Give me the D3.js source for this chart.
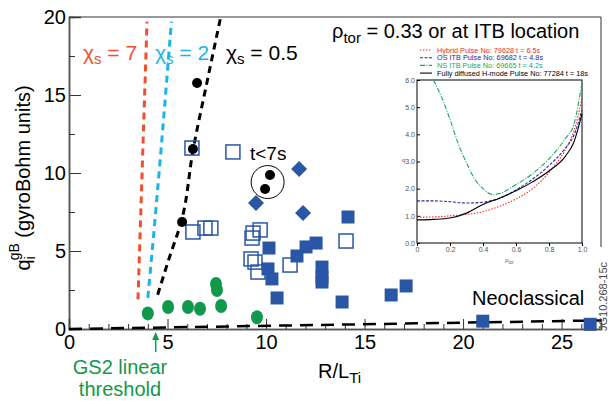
<!DOCTYPE html>
<html>
<head>
<meta charset="utf-8">
<script src="https://cdn.jsdelivr.net/npm/d3@7"></script>
<style>
body { margin: 0; background: #fff; }
svg { font-family: "Liberation Sans", Arial, Helvetica, sans-serif; }
</style>
</head>
<body>
<svg id="chartSVG" width="609" height="401"></svg>
<script>
// ---- main plot data (R/L_Ti, q_i gB) ----
var filledSquares = [[14.16,7.18],[10.15,5.19],[12.03,5.26],[12.54,5.51],[11.57,4.68],[10.10,3.85],
  [10.30,3.21],[12.84,3.97],[12.84,3.33],[12.84,3.01],[10.56,1.99],[13.86,1.73],[17.11,2.76],
  [16.35,2.18],[21.0,0.5],[26.45,0.3]];
var openSquares = [[6.24,11.6],[8.32,11.35],[6.29,6.22],[6.9,6.47],[7.2,6.47],[9.34,6.15],[9.70,6.35],
  [9.29,5.83],[14.06,5.64],[9.24,4.49],[9.44,4.29],[11.22,4.1],[9.59,3.65]];
var diamonds = [[11.68,10.26],[9.49,8.08],[11.88,7.44]];
var blackDots = [[6.5,15.77],[6.29,11.54],[5.74,6.86],[10.2,9.87],[9.95,8.97]];
var greenDots = [[4.0,1.0],[5.03,1.41],[6.04,1.41],[6.65,1.3],[7.72,1.47],[7.46,2.88],[7.51,2.5],[9.54,0.75]];

// chi_s stiffness lines
var chi7 = [[3.5,1.9],[3.96,19.7]];
var chi2 = [[4.0,2.0],[4.3,6.1],[5.2,19.7]];
var chi05 = [[4.5,2.2],[5.1,4.6],[5.7,6.9],[6.3,11.5],[7.0,15.8],[7.7,20]];
var neoLine = [[0,0],[27,0.55]];

var xTicks = [0,5,10,15,20,25];
var yTicks = [0,5,10,15,20];

// ---- inset data (rho_tor, q) ----
var rho = [0,0.1,0.2,0.3,0.4,0.5,0.6,0.7,0.8,0.9,0.95,1.0];
var qFully = [0.85,0.87,0.92,1.1,1.42,1.65,1.92,2.25,2.65,3.2,3.7,4.75];
var qHybrid = [0.95,0.96,1.0,1.05,1.15,1.35,1.62,2.0,2.6,3.45,4.1,5.3];
var qOS = [1.55,1.55,1.52,1.47,1.5,1.65,1.95,2.35,2.85,3.5,3.95,4.9];
var rhoNS = [0.1,0.15,0.2,0.25,0.3,0.35,0.4,0.46,0.5,0.6,0.7,0.8,0.9,0.95,1.0];
var qNS = [6.0,5.35,4.55,3.65,2.95,2.35,2.0,1.78,1.82,2.15,2.55,3.1,3.85,4.35,5.9];
var insetXTicks = [0,0.2,0.4,0.6,0.8,1.0];
var insetYTicks = [0,1,2,3,4,5,6];
var legendItems = ["Hybrid Pulse No: 79628 t = 6.5s","OS ITB Pulse No: 69682 t = 4.8s",
  "NS ITB Pulse No: 69665 t = 4.2s","Fully diffused H-mode Pulse No: 77284 t = 18s"];

var blue = "#2a56a6", green = "#10994a";

var svg = d3.select("#chartSVG");

var x = d3.scaleLinear().domain([0,27]).range([69,601]),
    y = d3.scaleLinear().domain([0,20]).range([329,17]);

var line = d3.line()
    .x(function(d) { return x(d[0]); })
    .y(function(d) { return y(d[1]); });

// axes, ticks inside
svg.append("g").attr("transform","translate(" + x(0) + ",0)")
    .call(d3.axisLeft(y).tickValues(yTicks).tickSize(-12).tickPadding(3));
svg.append("g").attr("transform","translate(" + x(0) + ",0)")
    .call(d3.axisLeft(y).tickValues([2.5,7.5,12.5,17.5]).tickSize(-6).tickFormat(""));
svg.append("g").attr("transform","translate(0," + y(0) + ")")
    .call(d3.axisBottom(x).tickValues(xTicks).tickSize(-10).tickPadding(6));
svg.append("g").attr("transform","translate(0," + y(0) + ")")
    .call(d3.axisBottom(x).tickValues(d3.range(0,27).filter(function(v){ return v % 5; })).tickSize(-5).tickFormat(""));
svg.selectAll(".domain").attr("stroke","#555").attr("stroke-width",1.5);
svg.selectAll(".tick line").attr("stroke","#333");
svg.selectAll(".tick text").attr("font-size",20).attr("fill","#000")
    .attr("font-family","Liberation Sans, Arial, sans-serif");

// frame top + right
svg.append("path").attr("d","M" + x(0) + "," + y(20) + "H" + x(27) + "V247")
    .attr("fill","none").attr("stroke","#333").attr("stroke-width",1);

// neoclassical line
svg.append("path").datum(neoLine).attr("d",line)
    .attr("fill","none").attr("stroke","#000").attr("stroke-width",2.5).attr("stroke-dasharray","13,8");

// chi_s lines
var chiLines = [{d:chi7,c:"#f04e30"},{d:chi2,c:"#1ab4ea"},{d:chi05,c:"#000"}];
chiLines.forEach(function(l){
  svg.append("path").datum(l.d)
    .attr("d",line.curve(d3.curveMonotoneY))
    .attr("fill","none").attr("stroke",l.c).attr("stroke-width",3).attr("stroke-dasharray","7,5");
});
line.curve(d3.curveLinear);

// markers
svg.selectAll(".os").data(openSquares).enter().append("rect")
    .attr("x",function(d){ return x(d[0]) - 7; }).attr("y",function(d){ return y(d[1]) - 7; })
    .attr("width",14).attr("height",14)
    .attr("fill","none").attr("stroke",blue).attr("stroke-width",1.5);
svg.selectAll(".fs").data(filledSquares).enter().append("rect")
    .attr("x",function(d){ return x(d[0]) - 6.5; }).attr("y",function(d){ return y(d[1]) - 6.5; })
    .attr("width",13).attr("height",13).attr("fill",blue);
svg.selectAll(".dm").data(diamonds).enter().append("path")
    .attr("transform",function(d){ return "translate(" + x(d[0]) + "," + y(d[1]) + ")"; })
    .attr("d","M0,-8L8,0L0,8L-8,0Z").attr("fill",blue);
svg.selectAll(".gd").data(greenDots).enter().append("ellipse")
    .attr("cx",function(d){ return x(d[0]); }).attr("cy",function(d){ return y(d[1]); })
    .attr("rx",6).attr("ry",7).attr("fill",green);
svg.selectAll(".bd").data(blackDots).enter().append("circle")
    .attr("cx",function(d){ return x(d[0]); }).attr("cy",function(d){ return y(d[1]); })
    .attr("r",5).attr("fill","#000");

// t<7s circle
svg.append("circle").attr("cx",x(10.08)).attr("cy",y(9.42)).attr("r",16.5)
    .attr("fill","none").attr("stroke","#000").attr("stroke-width",1);
svg.append("text").attr("x",250).attr("y",160).attr("font-size",19).text("t<7s");

// chi labels
function chiLabel(xp, col, val) {
  var t = svg.append("text").attr("x",xp).attr("y",60).attr("font-size",21).attr("fill",col);
  t.append("tspan").text("\u03c7");
  t.append("tspan").attr("font-size",15).attr("dy",4).text("s");
  t.append("tspan").attr("dy",-4).text(" = " + val);
}
chiLabel(83,"#f04e30","7");
chiLabel(155,"#1ab4ea","2");
chiLabel(226,"#000","0.5");

// rho_tor title
var tt = svg.append("text").attr("x",332).attr("y",38).attr("font-size",20);
tt.append("tspan").text("\u03c1");
tt.append("tspan").attr("font-size",15).attr("dy",5).text("tor");
tt.append("tspan").attr("dy",-5).text(" = 0.33 or at ITB location");

svg.append("text").attr("x",472).attr("y",305).attr("font-size",20).text("Neoclassical");

// axis titles
var yl = svg.append("text").attr("transform","translate(30,178) rotate(-90)")
    .attr("text-anchor","middle").attr("font-size",20);
yl.append("tspan").text("q");
yl.append("tspan").attr("font-size",14).attr("dy",5).text("i");
yl.append("tspan").attr("font-size",14).attr("dx",-4).attr("dy",-16).text("gB");
yl.append("tspan").attr("dy",11).text(" (gyroBohm units)");

var xl = svg.append("text").attr("x",318).attr("y",378).attr("font-size",20);
xl.append("tspan").text("R/L");
xl.append("tspan").attr("font-size",15).attr("dy",5).text("Ti");

// GS2 threshold arrow
svg.append("line").attr("x1",x(4.4)).attr("x2",x(4.4)).attr("y1",352).attr("y2",338)
    .attr("stroke",green).attr("stroke-width",1.5);
svg.append("path").attr("d","M" + x(4.4) + ",332l-3.5,8h7Z").attr("fill",green);
svg.append("text").attr("x",120).attr("y",374).attr("text-anchor","middle")
    .attr("font-size",20).attr("fill",green).text("GS2 linear");
svg.append("text").attr("x",120).attr("y",396).attr("text-anchor","middle")
    .attr("font-size",20).attr("fill",green).text("threshold");

svg.append("text").attr("transform","translate(607,331) rotate(-90)")
    .attr("font-size",11).attr("fill","#444").text("JG10.268-15c");

// ---- inset ----
var ix = d3.scaleLinear().domain([0,1]).range([417,582]),
    iy = d3.scaleLinear().domain([0,6]).range([243,80]);
var g = svg.append("g");
g.append("rect").attr("x",ix(0)).attr("y",iy(6)).attr("width",ix(1)-ix(0)).attr("height",iy(0)-iy(6))
    .attr("fill","#fff").attr("stroke","#000").attr("stroke-width",1);
g.append("g").attr("transform","translate(0," + iy(0) + ")")
    .call(d3.axisBottom(ix).tickValues(insetXTicks).tickSize(3).tickPadding(1)
      .tickFormat(function(d){ return d === 0 ? "0" : d3.format(".1f")(d); }));
g.append("g").attr("transform","translate(" + ix(0) + ",0)")
    .call(d3.axisLeft(iy).tickValues(insetYTicks).tickSize(-3).tickPadding(2));
g.selectAll(".domain").remove();
g.selectAll(".tick text").attr("font-size",7).attr("fill","#555");
g.selectAll(".tick line").attr("stroke","#000");

var iline = d3.line().curve(d3.curveMonotoneX)
    .x(function(d){ return ix(d[0]); }).y(function(d){ return iy(d[1]); });
var insetSeries = [
  {v:d3.zip(rho,qHybrid), c:"#ee2a2a", dash:"1.5,1.5"},
  {v:d3.zip(rho,qOS), c:"#2a2a99", dash:"3,1.5"},
  {v:d3.zip(rhoNS,qNS), c:"#18a860", dash:"5,1.5,1,1.5"},
  {v:d3.zip(rho,qFully), c:"#000", dash:null}
];
insetSeries.forEach(function(s, i){
  g.append("path").datum(s.v).attr("d",iline).attr("fill","none")
    .attr("stroke",s.c).attr("stroke-width",1.1).attr("stroke-dasharray",s.dash);
  var ly = 50 + i * 7.7;
  g.append("line").attr("x1",420).attr("x2",432).attr("y1",ly).attr("y2",ly)
    .attr("stroke",s.c).attr("stroke-width",1.1).attr("stroke-dasharray",s.dash);
  g.append("text").attr("x",437).attr("y",ly + 2.5).attr("font-size",7.3)
    .attr("fill",i === 3 ? "#000" : s.c).text(legendItems[i]);
});
g.append("text").attr("x",402).attr("y",162).attr("font-size",6).attr("fill","#555").text("q");
var rl = g.append("text").attr("x",505).attr("y",262).attr("font-size",6).attr("fill","#555");
rl.append("tspan").text("\u03c1");
rl.append("tspan").attr("font-size",4.5).attr("dy",1.5).text("tor");
</script>
</body>
</html>
